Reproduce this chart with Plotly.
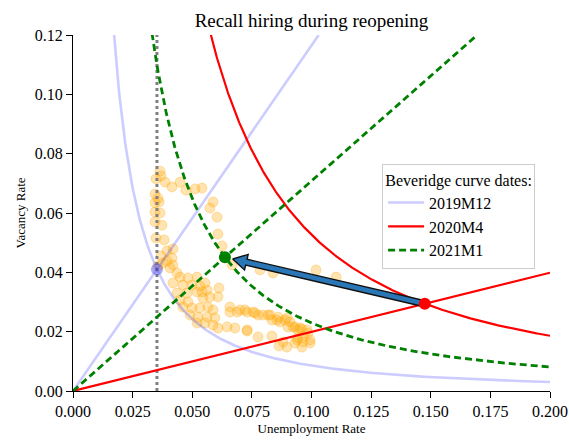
import numpy as np
import plotly.graph_objects as go

# ---------------- data ----------------
dates = ["2019M12", "2020M4", "2021M1"]
date_u = [0.0352, 0.1475, 0.0637]      # unemployment rate at each date's point
date_v = [0.0410, 0.0294, 0.0451]      # vacancy rate at each date's point
curve_exponent = 1.5                   # v = c * u^(-exponent)

obs_u = [0.0365, 0.0369, 0.0348, 0.0386, 0.0415, 0.0449, 0.0474, 0.0512, 0.0541, 0.0344,
         0.0356, 0.0344, 0.0361, 0.0344, 0.0365, 0.0344, 0.0373, 0.0587, 0.0574, 0.0604,
         0.0608, 0.0625, 0.0348, 0.0382, 0.0419, 0.0394, 0.0369, 0.0415, 0.0394, 0.0377,
         0.0419, 0.0356, 0.0407, 0.0436, 0.0449, 0.0482, 0.0520, 0.0419, 0.0461, 0.0499,
         0.0532, 0.0553, 0.0436, 0.0478, 0.0520, 0.0541, 0.0562, 0.0612, 0.0449, 0.0482,
         0.0545, 0.0574, 0.0608, 0.0461, 0.0499, 0.0532, 0.0566, 0.0587, 0.0491, 0.0524,
         0.0562, 0.0595, 0.0520, 0.0553, 0.0587, 0.0608, 0.0646, 0.0679, 0.0730, 0.0658,
         0.0700, 0.0730, 0.0763, 0.0797, 0.0826, 0.0860, 0.0897, 0.0658, 0.0688, 0.0721,
         0.0755, 0.0776, 0.0818, 0.0834, 0.0868, 0.0889, 0.0910, 0.0901, 0.0931, 0.0943,
         0.0960, 0.0981, 0.0985, 0.0964, 0.0943, 0.0994, 0.0994, 0.0855, 0.0922, 0.0952,
         0.0776, 0.0834, 0.0881, 0.0939, 0.0964, 0.0897, 0.0864, 0.0931, 0.0960, 0.0730,
         0.0667, 0.0784, 0.0839, 0.1019, 0.1103]
obs_v = [0.0741, 0.0725, 0.0715, 0.0704, 0.0688, 0.0704, 0.0677, 0.0681, 0.0684, 0.0664,
         0.0650, 0.0634, 0.0637, 0.0603, 0.0600, 0.0570, 0.0559, 0.0637, 0.0617, 0.0586,
         0.0529, 0.0489, 0.0516, 0.0509, 0.0479, 0.0472, 0.0455, 0.0448, 0.0438, 0.0431,
         0.0425, 0.0421, 0.0415, 0.0398, 0.0384, 0.0381, 0.0384, 0.0364, 0.0357, 0.0357,
         0.0354, 0.0364, 0.0330, 0.0330, 0.0334, 0.0334, 0.0340, 0.0347, 0.0307, 0.0300,
         0.0313, 0.0317, 0.0317, 0.0283, 0.0280, 0.0280, 0.0283, 0.0273, 0.0256, 0.0249,
         0.0249, 0.0246, 0.0229, 0.0229, 0.0222, 0.0212, 0.0216, 0.0212, 0.0202, 0.0283,
         0.0273, 0.0266, 0.0263, 0.0256, 0.0256, 0.0249, 0.0246, 0.0266, 0.0266, 0.0273,
         0.0266, 0.0256, 0.0256, 0.0239, 0.0233, 0.0239, 0.0233, 0.0216, 0.0216, 0.0206,
         0.0209, 0.0206, 0.0195, 0.0182, 0.0179, 0.0172, 0.0162, 0.0239, 0.0216, 0.0212,
         0.0182, 0.0185, 0.0165, 0.0172, 0.0165, 0.0148, 0.0152, 0.0162, 0.0148, 0.0206,
         0.0425, 0.0408, 0.0398, 0.0408, 0.0384]

x_ticks = [0.000, 0.025, 0.050, 0.075, 0.100, 0.125, 0.150, 0.175, 0.200]
y_ticks = [0.00, 0.02, 0.04, 0.06, 0.08, 0.10, 0.12]

# ---------------- styling ----------------
FONT = "Liberation Serif"
W_FIG, H_FIG = 569, 443
ML, MR, MT, MB = 73, 19, 35, 52
XR = [0.0, 0.2]
YR = [0.0, 0.12]
line_colors = ["rgba(0,0,255,0.2)", "#ff0000", "#008000"]
line_dash = ["solid", "solid", "7px,4px"]
line_width = [2.6, 2.2, 2.8]
marker_colors = ["rgba(70,70,230,0.45)", "#ff0000", "#008000"]

fig = go.Figure()

# observations
fig.add_trace(go.Scatter(
    x=obs_u, y=obs_v, mode="markers", showlegend=False, hoverinfo="skip",
    marker=dict(size=10, color="rgba(255,165,0,0.30)",
                line=dict(color="rgba(255,165,0,0.30)", width=1))))

# vertical dotted line at 2019M12 unemployment
fig.add_trace(go.Scatter(
    x=[date_u[0], date_u[0]], y=YR, mode="lines", showlegend=False, hoverinfo="skip",
    line=dict(color="#808080", width=3, dash="3px,3px")))

ugrid = np.linspace(0.002, XR[1], 600)
for i, d in enumerate(dates):
    c = date_v[i] * date_u[i] ** curve_exponent
    vcurve = c * ugrid ** (-curve_exponent)
    mask = vcurve <= YR[1] * 1.05
    fig.add_trace(go.Scatter(
        x=ugrid[mask], y=vcurve[mask], mode="lines", name=d, legendrank=i,
        line=dict(color=line_colors[i], width=line_width[i], dash=line_dash[i]),
        hoverinfo="skip"))
    slope = date_v[i] / date_u[i]
    uend = min(XR[1], YR[1] / slope)
    fig.add_trace(go.Scatter(
        x=[0.0, uend], y=[0.0, slope * uend], mode="lines", showlegend=False,
        line=dict(color=line_colors[i], width=line_width[i], dash=line_dash[i]),
        hoverinfo="skip"))

# arrow from 2020M4 point to 2021M1 point (polygon built in pixel space)
pw = W_FIG - ML - MR
ph = H_FIG - MT - MB
sx = pw / (XR[1] - XR[0])
sy = ph / (YR[1] - YR[0])
p0 = np.array([date_u[1] * sx, date_v[1] * sy])
p1 = np.array([date_u[2] * sx, date_v[2] * sy])
dvec = p1 - p0
L = np.hypot(*dvec)
dvec = dvec / L
nvec = np.array([-dvec[1], dvec[0]])
tip_gap, head_len, shaft_hw, head_hw = 8.0, 14.0, 3.0, 8.0
tip = p1 - dvec * tip_gap
base = tip - dvec * head_len
poly = [p0 + nvec * shaft_hw, base + nvec * shaft_hw, base + nvec * head_hw, tip,
        base - nvec * head_hw, base - nvec * shaft_hw, p0 - nvec * shaft_hw,
        p0 + nvec * shaft_hw]
fig.add_trace(go.Scatter(
    x=[p[0] / sx for p in poly], y=[p[1] / sy for p in poly], mode="lines",
    fill="toself", fillcolor="#2a77b8", line=dict(color="#111111", width=1.4),
    showlegend=False, hoverinfo="skip"))

# markers at each date's point (on top)
for i in range(len(dates)):
    fig.add_trace(go.Scatter(
        x=[date_u[i]], y=[date_v[i]], mode="markers", showlegend=False, hoverinfo="skip",
        marker=dict(size=12, color=marker_colors[i], line=dict(width=0))))

axis_common = dict(
    showline=True, linecolor="black", linewidth=1.3, mirror=False,
    ticks="outside", ticklen=6, tickwidth=1.3, tickcolor="black",
    showgrid=False, zeroline=False, automargin=False,
    tickfont=dict(family=FONT, size=16, color="black"),
)
fig.update_xaxes(range=XR, tickvals=x_ticks, tickformat=".3f",
                 title=dict(text="Unemployment Rate", font=dict(family=FONT, size=13, color="black"),
                            standoff=4),
                 **axis_common)
fig.update_yaxes(range=YR, tickvals=y_ticks, tickformat=".2f",
                 title=dict(text="Vacancy Rate", font=dict(family=FONT, size=13, color="black"),
                            standoff=6),
                 **axis_common)

fig.update_layout(
    width=W_FIG, height=H_FIG,
    margin=dict(l=ML, r=MR, t=MT, b=MB),
    paper_bgcolor="white", plot_bgcolor="white",
    title=dict(text="Recall hiring during reopening", x=0.5, xref="paper",
               y=1 - 20 / H_FIG, yref="container", yanchor="middle",
               font=dict(family=FONT, size=19, color="black"),
               automargin=False),
    legend=dict(x=0.648, y=0.638, xanchor="left", yanchor="top",
                bgcolor="white", bordercolor="#cccccc", borderwidth=1,
                font=dict(family=FONT, size=16, color="black"),
                title=dict(text="Beveridge curve dates:", side="top center",
                           font=dict(family=FONT, size=16, color="black")),
                itemwidth=36, traceorder="normal"),
    font=dict(family=FONT, color="black"),
)

fig.write_html("out.html")
